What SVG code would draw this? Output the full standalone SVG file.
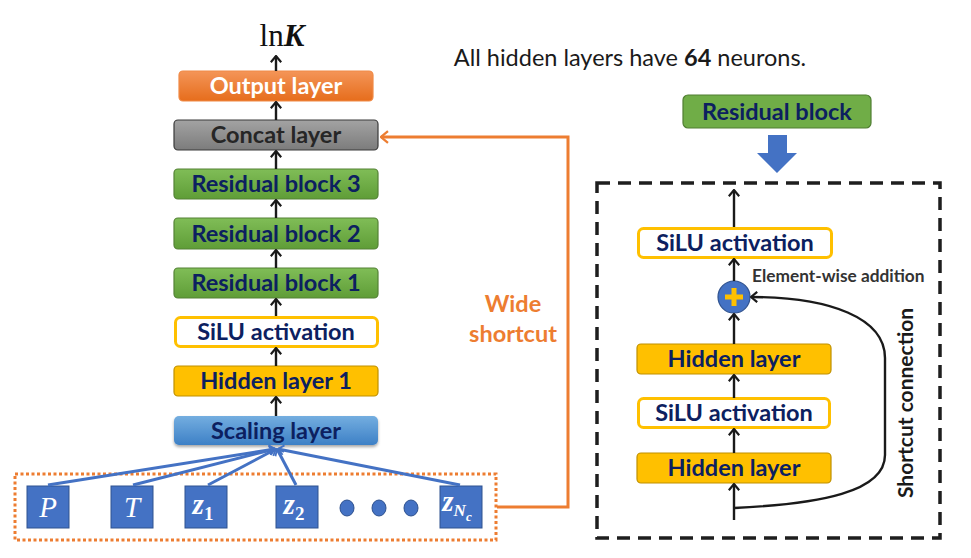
<svg xmlns="http://www.w3.org/2000/svg" width="971" height="558" viewBox="0 0 971 558">
<defs>
<style>
.t{font-family:Lato,"Open Sans","Liberation Sans",sans-serif;font-weight:bold;font-size:23.5px;text-anchor:middle;fill:#0c2060}
.blk{stroke-width:1.2}
.arr{stroke:#1a1a1a;stroke-width:2.4;fill:none;marker-end:url(#ah)}
.inp{fill:#4472c4;stroke:#2f528f;stroke-width:1}
.it{font-family:"Liberation Serif","DejaVu Serif",serif;font-style:italic;fill:#fff;font-size:29px;text-anchor:middle}
.bl{stroke:#4472c4;stroke-width:3;fill:none;marker-end:url(#ahb)}
</style>
<marker id="ah" viewBox="0 0 8 12" refX="7" refY="6" markerWidth="8" markerHeight="12" orient="auto" markerUnits="userSpaceOnUse"><path d="M0.8,0.8 L7,6 L0.8,11.2" fill="none" stroke="#1a1a1a" stroke-width="2.2"/></marker>
<marker id="aho" viewBox="0 0 8 12" refX="7" refY="6" markerWidth="9" markerHeight="14" orient="auto" markerUnits="userSpaceOnUse"><path d="M0.8,0.8 L7,6 L0.8,11.2" fill="none" stroke="#ed7d31" stroke-width="2"/></marker>
<marker id="ahb" viewBox="0 0 8 12" refX="7" refY="6" markerWidth="8" markerHeight="11" orient="auto" markerUnits="userSpaceOnUse"><path d="M0.8,0.8 L7,6 L0.8,11.2" fill="none" stroke="#4472c4" stroke-width="2"/></marker>
<linearGradient id="gO" x1="0" y1="0" x2="0" y2="1"><stop offset="0" stop-color="#f49558"/><stop offset="1" stop-color="#e66d1c"/></linearGradient>
<linearGradient id="gC" x1="0" y1="0" x2="0" y2="1"><stop offset="0" stop-color="#a3a3a3"/><stop offset="1" stop-color="#7c7c7c"/></linearGradient>
<linearGradient id="gG" x1="0" y1="0" x2="0" y2="1"><stop offset="0" stop-color="#80bd57"/><stop offset="1" stop-color="#5f9d37"/></linearGradient>
<linearGradient id="gS" x1="0" y1="0" x2="0" y2="1"><stop offset="0" stop-color="#74aee0"/><stop offset="1" stop-color="#3d80c6"/></linearGradient>
<filter id="sh" x="-10%" y="-30%" width="120%" height="170%"><feDropShadow dx="0" dy="2" stdDeviation="1.6" flood-color="#000" flood-opacity="0.35"/></filter>
</defs>
<rect width="971" height="558" fill="#fff"/>

<text x="282" y="46" font-family="'Liberation Serif','DejaVu Serif',serif" font-size="31" text-anchor="middle" fill="#111">ln<tspan font-weight="bold" font-style="italic">K</tspan></text>
<text x="630" y="66" font-family="Lato,'Open Sans','Liberation Sans',sans-serif" font-size="23.5" text-anchor="middle" fill="#1a1a1a">All hidden layers have <tspan font-weight="bold">64</tspan> neurons.</text>

<g id="output-layer"><rect x="179" y="71" width="194" height="30" rx="4" fill="url(#gO)" stroke="#f08a46" class="blk"/><text class="t" x="276" y="94" style="fill:#fff">Output layer</text></g>
<g id="concat-layer"><rect x="174" y="120" width="204" height="30" rx="4" fill="url(#gC)" stroke="#3a3a3a" class="blk"/><text class="t" x="276" y="143" style="fill:#262626">Concat layer</text></g>
<g id="res3"><rect x="174" y="169" width="204" height="30" rx="4" fill="url(#gG)" stroke="#548235" class="blk"/><text class="t" x="276" y="192">Residual block 3</text></g>
<g id="res2"><rect x="174" y="218" width="204" height="31" rx="4" fill="url(#gG)" stroke="#548235" class="blk"/><text class="t" x="276" y="242">Residual block 2</text></g>
<g id="res1"><rect x="174" y="268" width="204" height="30" rx="4" fill="url(#gG)" stroke="#548235" class="blk"/><text class="t" x="276" y="291">Residual block 1</text></g>
<g id="silu1"><rect x="175.5" y="317.5" width="202" height="29" rx="5" fill="#fff" stroke="#ffc000" stroke-width="3"/><text class="t" x="276" y="340">SiLU activation</text></g>
<g id="hidden1"><rect x="174" y="366" width="204" height="30" rx="4" fill="#ffc000" stroke="#bf9000" class="blk"/><text class="t" x="276" y="389">Hidden layer 1</text></g>
<g id="scaling"><rect x="174" y="416" width="204" height="29" rx="5" fill="url(#gS)" filter="url(#sh)"/><text class="t" x="276" y="439">Scaling layer</text></g>

<g id="inputs">
<rect x="15" y="474" width="481" height="66" fill="none" stroke="#ed7d31" stroke-width="3" stroke-dasharray="3 2.5"/>
<g id="in-P"><rect class="inp" x="27" y="486" width="42" height="42"/><text class="it" x="48" y="517">P</text></g>
<g id="in-T"><rect class="inp" x="111" y="486" width="42" height="42"/><text class="it" x="132" y="517">T</text></g>
<g id="in-z1"><rect class="inp" x="185" y="486" width="42" height="42"/><text class="it" x="203" y="514" font-weight="bold">z<tspan font-size="19" font-style="normal" dy="6">1</tspan></text></g>
<g id="in-z2"><rect class="inp" x="276" y="486" width="42" height="42"/><text class="it" x="294" y="514" font-weight="bold">z<tspan font-size="19" font-style="normal" dy="6">2</tspan></text></g>
<g id="dots" fill="#4472c4" stroke="#2f528f" stroke-width="1"><ellipse cx="347" cy="508" rx="7" ry="8"/><ellipse cx="379" cy="508" rx="7" ry="8"/><ellipse cx="411" cy="508" rx="7" ry="8"/></g>
<g id="in-zNc"><rect class="inp" x="440" y="486" width="42" height="42"/><text class="it" x="457" y="511" font-weight="bold" font-size="25">z<tspan font-size="17" dy="5">N</tspan><tspan font-size="13" dy="5">c</tspan></text></g>
</g>

<g id="wide-label" font-family="Lato,'Open Sans','Liberation Sans',sans-serif" font-weight="bold" font-size="23.5" fill="#ed7d31" text-anchor="middle"><text x="513" y="312">Wide</text><text x="513" y="342">shortcut</text></g>

<g id="res-header"><rect x="683" y="95" width="188" height="33" rx="5" fill="#70ad47" stroke="#507e32" stroke-width="1.2"/><text class="t" x="777" y="120">Residual block</text></g>
<path id="big-arrow" d="M768,135 H787 V153 H797 L777,173 L757,153 H768 Z" fill="#4472c4"/>

<g id="residual-detail">
<rect x="597" y="183" width="343" height="355" fill="none" stroke="#1e1e1e" stroke-width="3.5" stroke-dasharray="13 8"/>
<g id="r-silu-top"><rect x="638.5" y="228.5" width="193" height="29" rx="5" fill="#fff" stroke="#ffc000" stroke-width="3"/><text class="t" x="735" y="251">SiLU activation</text></g>
<g id="r-add"><circle cx="734" cy="297" r="16" fill="#4472c4" stroke="#2f528f" stroke-width="1.2"/><path d="M734,288 V306 M725,297 H743" stroke="#ffc000" stroke-width="5"/></g>
<text x="752" y="282" font-family="Lato,'Open Sans','Liberation Sans',sans-serif" font-weight="bold" font-size="17.3" fill="#333">Element-wise addition</text>
<g id="r-hidden-top"><rect x="637" y="344" width="194" height="30" rx="4" fill="#ffc000" stroke="#bf9000" stroke-width="1.2"/><text class="t" x="734" y="367">Hidden layer</text></g>
<g id="r-silu-mid"><rect x="638.5" y="398.5" width="191" height="29" rx="5" fill="#fff" stroke="#ffc000" stroke-width="3"/><text class="t" x="734" y="421">SiLU activation</text></g>
<g id="r-hidden-bot"><rect x="637" y="453" width="194" height="30" rx="4" fill="#ffc000" stroke="#bf9000" stroke-width="1.2"/><text class="t" x="734" y="476">Hidden layer</text></g>
<text transform="translate(913,403) rotate(-90)" font-family="Lato,'Open Sans','Liberation Sans',sans-serif" font-weight="bold" font-size="21" fill="#1a1a1a" text-anchor="middle">Shortcut connection</text>
</g>

<g id="connectors">
<line class="arr" x1="276" y1="71" x2="276" y2="56"/>
<line class="arr" x1="276" y1="120" x2="276" y2="102"/>
<line class="arr" x1="276" y1="169" x2="276" y2="151"/>
<line class="arr" x1="276" y1="218" x2="276" y2="200"/>
<line class="arr" x1="276" y1="268" x2="276" y2="250"/>
<line class="arr" x1="276" y1="316" x2="276" y2="299"/>
<line class="arr" x1="276" y1="366" x2="276" y2="348"/>
<line class="arr" x1="276" y1="416" x2="276" y2="397"/>
<line class="bl" x1="48" y1="485" x2="275" y2="449"/>
<line class="bl" x1="133" y1="485" x2="275" y2="449"/>
<line class="bl" x1="208" y1="485" x2="276" y2="449"/>
<line class="bl" x1="296" y1="485" x2="277" y2="449"/>
<line class="bl" x1="460" y1="485" x2="278" y2="449"/>
<path d="M497,507 H568 V137 H381" fill="none" stroke="#ed7d31" stroke-width="3" marker-end="url(#aho)"/>
<line class="arr" x1="734" y1="227" x2="734" y2="190"/>
<line class="arr" x1="734" y1="281" x2="734" y2="259"/>
<line class="arr" x1="734" y1="344" x2="734" y2="314"/>
<line class="arr" x1="734" y1="398" x2="734" y2="375"/>
<line class="arr" x1="734" y1="453" x2="734" y2="429"/>
<line class="arr" x1="734" y1="520" x2="734" y2="484"/>
<path class="arr" d="M734,508 C820,504 885,492 885,455 V358 C885,318 830,297 751,297"/>
</g>
</svg>
